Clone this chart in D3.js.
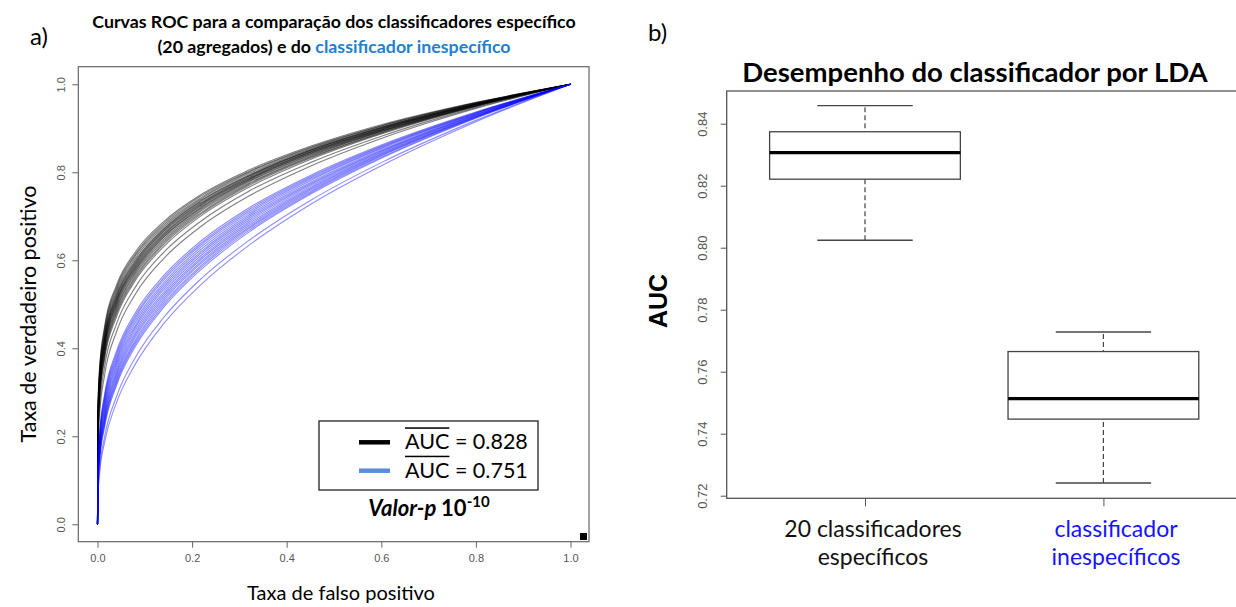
<!DOCTYPE html>
<html>
<head>
<meta charset="utf-8">
<script src="https://cdn.jsdelivr.net/npm/d3@7"></script>
<style>
  body { margin: 0; background: #fff; }
  svg { display: block; }
  text { white-space: pre; }
</style>
</head>
<body>
<div id="chart"></div>
<script>
// ---- data ----
// shared false positive rate grid for the ROC curves
var fpr = [0, 0.001, 0.004, 0.015, 0.04, 0.08, 0.14, 0.22, 0.32, 0.45, 0.6, 0.8, 1];

// 20 specific classifiers (black)
var specificTpr = [
  [0, .269, .350, .450, .543, .619, .688, .750, .805, .859, .908, .959, 1],
  [0, .264, .345, .445, .538, .614, .684, .747, .802, .857, .906, .958, 1],
  [0, .259, .339, .439, .533, .610, .680, .743, .800, .855, .905, .958, 1],
  [0, .253, .334, .434, .528, .605, .676, .740, .797, .853, .903, .957, 1],
  [0, .248, .328, .428, .523, .600, .672, .737, .794, .851, .902, .956, 1],
  [0, .245, .325, .425, .519, .597, .670, .735, .792, .850, .901, .956, 1],
  [0, .241, .321, .421, .516, .594, .667, .732, .791, .849, .900, .955, 1],
  [0, .238, .318, .418, .512, .591, .665, .730, .789, .847, .899, .955, 1],
  [0, .234, .314, .414, .509, .588, .662, .728, .787, .846, .898, .954, 1],
  [0, .231, .311, .411, .506, .585, .659, .726, .785, .845, .897, .954, 1],
  [0, .228, .307, .407, .503, .582, .657, .724, .784, .843, .896, .953, 1],
  [0, .225, .304, .404, .499, .579, .654, .721, .782, .842, .895, .953, 1],
  [0, .222, .301, .401, .496, .576, .652, .719, .780, .840, .894, .952, 1],
  [0, .218, .296, .396, .491, .572, .648, .716, .778, .838, .893, .952, 1],
  [0, .213, .291, .391, .487, .568, .644, .713, .775, .836, .892, .951, 1],
  [0, .209, .286, .386, .482, .563, .640, .709, .773, .834, .890, .951, 1],
  [0, .204, .281, .381, .477, .559, .636, .706, .770, .832, .889, .950, 1],
  [0, .199, .275, .375, .471, .554, .631, .702, .766, .829, .887, .949, 1],
  [0, .185, .259, .358, .455, .539, .618, .690, .757, .822, .882, .947, 1],
  [0, .169, .242, .339, .437, .523, .604, .678, .746, .814, .877, .945, 1]
];

// unspecific classifier (blue)
var unspecificTpr = [
  [0, .135, .202, .296, .393, .481, .565, .645, .719, .793, .862, .937, 1],
  [0, .131, .197, .290, .387, .475, .560, .640, .715, .790, .860, .936, 1],
  [0, .127, .192, .285, .381, .470, .555, .636, .711, .787, .858, .935, 1],
  [0, .123, .187, .279, .375, .464, .549, .631, .707, .784, .856, .934, 1],
  [0, .119, .182, .273, .370, .458, .544, .626, .703, .781, .854, .933, 1],
  [0, .114, .177, .267, .364, .452, .539, .621, .699, .777, .851, .932, 1],
  [0, .110, .172, .262, .358, .447, .534, .617, .695, .774, .849, .931, 1],
  [0, .106, .167, .256, .352, .441, .528, .612, .691, .771, .847, .930, 1],
  [0, .102, .162, .250, .346, .435, .523, .607, .687, .768, .845, .929, 1],
  [0, .099, .158, .245, .341, .430, .518, .603, .683, .765, .843, .928, 1],
  [0, .096, .154, .240, .336, .425, .513, .598, .679, .762, .841, .927, 1],
  [0, .093, .150, .235, .330, .419, .508, .594, .675, .759, .839, .926, 1],
  [0, .090, .146, .231, .325, .414, .503, .589, .672, .756, .837, .925, 1],
  [0, .087, .142, .226, .320, .409, .498, .585, .668, .753, .834, .924, 1],
  [0, .084, .138, .221, .315, .404, .493, .580, .664, .750, .832, .923, 1],
  [0, .071, .120, .199, .290, .379, .470, .559, .645, .736, .822, .918, 1],
  [0, .063, .110, .186, .276, .364, .456, .546, .634, .727, .815, .915, 1]
];

var rocTicks = [0, 0.2, 0.4, 0.6, 0.8, 1.0];
var legendLabels = ["0.828", "0.751"];

// boxplot summary: [lower whisker, q1, median, q3, upper whisker]
var boxCategories = [["20 classificadores", "específicos"], ["classificador", "inespecíficos"]];
var boxStats = [
  [0.8024, 0.8221, 0.8307, 0.8374, 0.8458],
  [0.7241, 0.7447, 0.7513, 0.7665, 0.7728]
];
var aucTicks = [0.72, 0.74, 0.76, 0.78, 0.80, 0.82, 0.84];

// ---- layout ----
var W = 1236, H = 607;
var calibri = "Lato, 'Open Sans', sans-serif";
var arial = "'Liberation Sans', Arial, sans-serif";

var svg = d3.select("#chart").append("svg")
    .attr("width", W)
    .attr("height", H);

// ===================== panel a) ROC =====================
var rocFrame = {left: 78.3, right: 589, top: 66.7, bottom: 541.7};

var x = d3.scaleLinear().domain([0, 1]).range([97.5, 570.5]);
var y = d3.scaleLinear().domain([0, 1]).range([524.3, 84.3]);

var line = d3.line()
    .x(function(d) { return x(d[0]); })
    .y(function(d) { return y(d[1]); })
    .curve(d3.curveMonotoneX);

var curves = svg.append("g").attr("class", "roc");

curves.selectAll(".spec")
    .data(specificTpr)
    .enter().append("path")
    .attr("class", "spec")
    .attr("d", function(t) { return line(fpr.map(function(f, i) { return [f, t[i]]; })); })
    .attr("fill", "none")
    .attr("stroke", "#000")
    .attr("stroke-opacity", 0.5)
    .attr("stroke-width", 1.1);

curves.selectAll(".unspec")
    .data(unspecificTpr)
    .enter().append("path")
    .attr("class", "unspec")
    .attr("d", function(t) { return line(fpr.map(function(f, i) { return [f, t[i]]; })); })
    .attr("fill", "none")
    .attr("stroke", "#0000ff")
    .attr("stroke-opacity", 0.45)
    .attr("stroke-width", 1.1);

// axes
var xAxis = d3.axisBottom(x).tickValues(rocTicks).tickFormat(d3.format(".1f"))
    .tickSize(6).tickSizeOuter(0).tickPadding(7);
var gx = svg.append("g")
    .attr("transform", "translate(0," + rocFrame.bottom + ")")
    .call(xAxis);

var yAxis = d3.axisLeft(y).tickValues(rocTicks).tickFormat(d3.format(".1f"))
    .tickSize(6).tickSizeOuter(0);
var gy = svg.append("g")
    .attr("transform", "translate(" + rocFrame.left + ",0)")
    .call(yAxis);
gy.selectAll("text")
    .attr("x", null).attr("dy", null)
    .attr("text-anchor", "middle")
    .attr("transform", "translate(-13,0) rotate(-90)");

[gx, gy].forEach(function(g) {
  g.select(".domain").remove();
  g.selectAll("line").attr("stroke", "#666");
  g.selectAll("text").attr("fill", "#555").style("font-family", arial).style("font-size", "11px");
});

svg.append("rect")
    .attr("x", rocFrame.left).attr("y", rocFrame.top)
    .attr("width", rocFrame.right - rocFrame.left)
    .attr("height", rocFrame.bottom - rocFrame.top)
    .attr("fill", "none").attr("stroke", "#666").attr("stroke-width", 1.2);

// stray black square in the corner
svg.append("rect")
    .attr("x", 580).attr("y", 533).attr("width", 7).attr("height", 7)
    .attr("fill", "#000");

// titles and labels
svg.append("text")
    .attr("x", 30).attr("y", 45)
    .style("font-family", calibri).style("font-size", "24px")
    .text("a)");

svg.append("text")
    .attr("x", 334).attr("y", 28)
    .attr("text-anchor", "middle")
    .style("font-family", calibri).style("font-size", "17.8px").style("font-weight", "bold")
    .text("Curvas ROC para a comparação dos classificadores específico");
var t2 = svg.append("text")
    .attr("x", 334).attr("y", 53)
    .attr("text-anchor", "middle")
    .style("font-family", calibri).style("font-size", "17.8px").style("font-weight", "bold");
t2.append("tspan").text("(20 agregados) e do ");
t2.append("tspan").attr("fill", "#1f7fd0").text("classificador inespecífico");

svg.append("text")
    .attr("transform", "translate(36,314) rotate(-90)")
    .attr("text-anchor", "middle")
    .style("font-family", calibri).style("font-size", "21.5px")
    .text("Taxa de verdadeiro positivo");

svg.append("text")
    .attr("x", 341).attr("y", 600)
    .attr("text-anchor", "middle")
    .style("font-family", calibri).style("font-size", "20px")
    .text("Taxa de falso positivo");

// legend
var legend = svg.append("g");
legend.append("rect")
    .attr("x", 319).attr("y", 421).attr("width", 219).attr("height", 69)
    .attr("fill", "#fff").attr("stroke", "#222").attr("stroke-width", 1.3);

var legendColors = ["#000", "#5a8fd8"];
var legendY = [449.3, 477.7];
legendLabels.forEach(function(v, i) {
  legend.append("line")
      .attr("x1", 359).attr("x2", 390)
      .attr("y1", legendY[i] - 7).attr("y2", legendY[i] - 7)
      .attr("stroke", legendColors[i]).attr("stroke-width", 4.5);
  var auc = legend.append("text")
      .attr("x", 405).attr("y", legendY[i])
      .style("font-family", calibri).style("font-size", "21.5px")
      .text("AUC");
  var w = auc.node().getComputedTextLength() || 41;
  // bar over "AUC" (mean)
  legend.append("rect")
      .attr("x", 405).attr("y", legendY[i] - 22)
      .attr("width", w).attr("height", 1.5)
      .attr("fill", "#000");
  legend.append("text")
      .attr("x", 405 + w).attr("y", legendY[i])
      .style("font-family", calibri).style("font-size", "21.5px")
      .text(" = " + v);
});

var pv = svg.append("text")
    .attr("x", 429).attr("y", 516)
    .attr("text-anchor", "middle")
    .style("font-family", calibri).style("font-weight", "bold").style("font-size", "22px");
pv.append("tspan").style("font-style", "italic").text("Valor-p ");
pv.append("tspan").text("10");
pv.append("tspan").attr("dy", -9).style("font-size", "15px").text("-10");

// ===================== panel b) boxplot =====================
var boxFrame = {left: 726.7, right: 1241.7, top: 91, bottom: 498.3};

var xB = d3.scaleLinear().domain([0.42, 2.58]).range([boxFrame.left, boxFrame.right]);
var yB = d3.scaleLinear().domain([0.72, 0.84]).range([495.7, 123.7]);

var boxes = svg.selectAll(".boxg")
    .data(boxStats)
    .enter().append("g")
    .attr("class", "boxg");

boxes.append("line") // dashed whisker lines
    .attr("x1", function(d, i) { return xB(i + 1); })
    .attr("x2", function(d, i) { return xB(i + 1); })
    .attr("y1", function(d) { return yB(d[0]); })
    .attr("y2", function(d) { return yB(d[4]); })
    .attr("stroke", "#444").attr("stroke-width", 1.2).attr("stroke-dasharray", "5,3");

boxes.append("rect")
    .attr("x", function(d, i) { return xB(i + 1 - 0.4); })
    .attr("width", xB(1.4) - xB(0.6))
    .attr("y", function(d) { return yB(d[3]); })
    .attr("height", function(d) { return yB(d[1]) - yB(d[3]); })
    .attr("fill", "#fff").attr("stroke", "#444").attr("stroke-width", 1.3);

boxes.append("line") // median
    .attr("x1", function(d, i) { return xB(i + 1 - 0.4); })
    .attr("x2", function(d, i) { return xB(i + 1 + 0.4); })
    .attr("y1", function(d) { return yB(d[2]); })
    .attr("y2", function(d) { return yB(d[2]); })
    .attr("stroke", "#000").attr("stroke-width", 3.2);

[0, 4].forEach(function(k) { // whisker caps
  boxes.append("line")
      .attr("x1", function(d, i) { return xB(i + 1 - 0.2); })
      .attr("x2", function(d, i) { return xB(i + 1 + 0.2); })
      .attr("y1", function(d) { return yB(d[k]); })
      .attr("y2", function(d) { return yB(d[k]); })
      .attr("stroke", "#444").attr("stroke-width", 1.3);
});

var yAxisB = d3.axisLeft(yB).tickValues(aucTicks).tickFormat(d3.format(".2f"))
    .tickSize(6).tickSizeOuter(0);
var gyB = svg.append("g")
    .attr("transform", "translate(" + boxFrame.left + ",0)")
    .call(yAxisB);
gyB.select(".domain").remove();
gyB.selectAll("line").attr("stroke", "#555");
gyB.selectAll("text")
    .attr("x", null).attr("dy", null)
    .attr("text-anchor", "middle")
    .attr("transform", "translate(-19.5,0) rotate(-90)")
    .attr("fill", "#555")
    .style("font-family", arial).style("font-size", "13px");

var xAxisB = d3.axisBottom(xB).tickValues([1, 2]).tickFormat("").tickSize(8).tickSizeOuter(0);
var gxB = svg.append("g")
    .attr("transform", "translate(0," + boxFrame.bottom + ")")
    .call(xAxisB);
gxB.select(".domain").remove();
gxB.selectAll("line").attr("stroke", "#555");

svg.append("rect")
    .attr("x", boxFrame.left).attr("y", boxFrame.top)
    .attr("width", boxFrame.right - boxFrame.left)
    .attr("height", boxFrame.bottom - boxFrame.top)
    .attr("fill", "none").attr("stroke", "#555").attr("stroke-width", 1.3);

// category labels
var catColors = ["#111", "#1414ff"];
var catX = [873, 1116];
boxCategories.forEach(function(lines, i) {
  lines.forEach(function(s, j) {
    svg.append("text")
        .attr("x", catX[i]).attr("y", 537 + j * 28)
        .attr("text-anchor", "middle")
        .attr("fill", catColors[i])
        .style("font-family", calibri).style("font-size", "23px")
        .text(s);
  });
});

svg.append("text")
    .attr("x", 648).attr("y", 41)
    .style("font-family", calibri).style("font-size", "24px")
    .text("b)");

svg.append("text")
    .attr("x", 975).attr("y", 82)
    .attr("text-anchor", "middle")
    .style("font-family", calibri).style("font-size", "27.5px").style("font-weight", "bold")
    .text("Desempenho do classificador por LDA");

svg.append("text")
    .attr("transform", "translate(667,301) rotate(-90)")
    .attr("text-anchor", "middle")
    .style("font-family", arial).style("font-size", "25px").style("font-weight", "bold")
    .text("AUC");
</script>
</body>
</html>
